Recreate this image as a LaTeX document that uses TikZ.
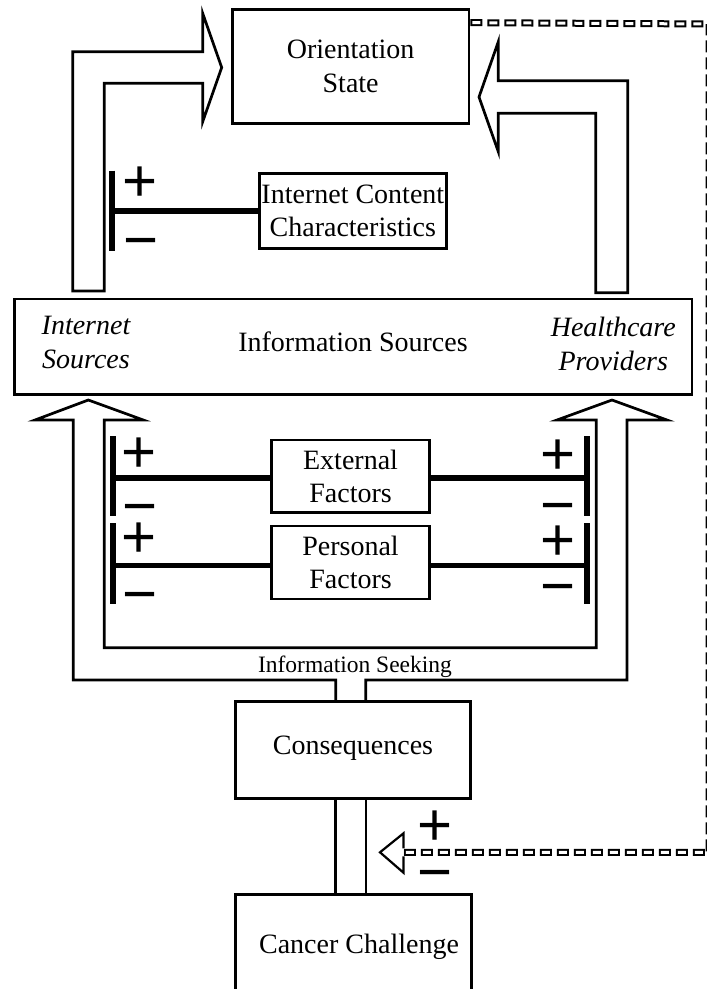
\documentclass[tikz,border=0pt]{standalone}
\usepackage{fontspec}
\setmainfont{Liberation Serif}
\newfontfamily\signfont{Liberation Sans}
\newcommand\mydiagfs{\fontsize{28}{33.5}\selectfont}
\begin{document}
\begin{tikzpicture}[x=1pt,y=-1pt,
  outline/.style={line width=2.7pt, line join=miter},
  hollow/.style={draw, line width=2.7pt, fill=white, line join=miter},
  box/.style={draw, line width=2.7pt, inner sep=0pt, align=center, font=\mydiagfs},
  txt/.style={inner sep=0pt, font=\mydiagfs},
  itxt/.style={inner sep=0pt, align=center, font=\mydiagfs\itshape},
  sgn/.style={inner sep=0pt, anchor=base, font=\signfont\fontsize{60}{60}\selectfont},
  bar/.style={line width=5.6pt},
  fbouter/.style={line width=7pt, dash pattern=on 12pt off 5pt},
  fbinner/.style={white, line width=3pt, dash pattern=on 8pt off 9pt, dash phase=15pt}
]
\useasboundingbox (0,0) rectangle (707,989);
\fill[white] (0,0) rectangle (707,989);

% boxes
\node[box, minimum width=236.7pt, minimum height=114pt] (orient) at (350.65,66.3) {Orientation\\State};
\node[box, minimum width=187.3pt, minimum height=75.4pt] (icc) at (352.85,211) {Internet Content\\Characteristics};
\node[box, minimum width=677.6pt, minimum height=95.5pt] (info) at (353.2,346.75) {};
\node[txt, anchor=base] (infolbl) at (353,351.7) {Information Sources};
\node[itxt] (inet) at (86,342.65) {Internet\\Sources};
\node[itxt] (hcp) at (613.3,343.9) {Healthcare\\Providers};
\node[box, minimum width=158.3pt, minimum height=72.7pt] (ext) at (350.55,476.35) {External\\Factors};
\node[box, minimum width=158.3pt, minimum height=73pt] (pers) at (350.55,562.5) {Personal\\Factors};
\node[box, minimum width=235pt, minimum height=97pt] (cons) at (353.2,750.2) {};
\node[txt, anchor=base] (conslbl) at (353,754.3) {Consequences};
\node[box, minimum width=236pt, minimum height=110pt] (cancer) at (353.2,949.3) {};
\node[txt, anchor=base] (cancerlbl) at (359,953.3) {Cancer Challenge};
\node[txt, anchor=base, font=\fontsize{23.5}{28}\selectfont] (seek) at (355,672.7) {Information Seeking};

% hollow L-arrows into Orientation State
\draw[hollow] (72.7,291) -- (72.7,51.7) -- (202.7,51.7) -- (202.7,13.3) -- (221.7,67.5)
  -- (202.7,121.7) -- (202.7,83.3) -- (104.3,83.3) -- (104.3,291) -- cycle;
\draw[hollow] (627.7,292.7) -- (627.7,80.7) -- (498.3,80.7) -- (498.3,41.7) -- (479,97)
  -- (498.3,151.7) -- (498.3,113.3) -- (595.7,113.3) -- (595.7,292.7) -- cycle;

% information seeking loop
\draw[outline] ([xshift=-17.5pt]cons.north) -- (335.7,680) -- (73.3,680) -- (73.3,420)
  -- (35,420) -- (88.3,400) -- (143.3,420) -- (104.3,420) -- (104.3,647.7)
  -- (596.3,647.7) -- (596.3,420) -- (557,420) -- (612,400) -- (667,420)
  -- (627,420) -- (627,680) -- (365.7,680) -- ([xshift=12.5pt]cons.north);
\draw[outline] ([xshift=-17.5pt]cons.south) -- ([xshift=-17.5pt]cancer.north);
\draw[outline] ([xshift=12.8pt]cons.south) -- ([xshift=12.8pt]cancer.north);

% moderators
\coordinate (iccL) at (112,211);
\draw[bar] (112,170.7) -- (112,250.7);
\draw[bar] (iccL) -- (icc.west);
\coordinate (extL) at (112.7,478);
\coordinate (extR) at (587,478);
\coordinate (persL) at (112.7,565.5);
\coordinate (persR) at (587,565.5);
\draw[bar] (112.7,436) -- (112.7,516);
\draw[bar] (587,436) -- (587,516);
\draw[bar] (112.7,523.3) -- (112.7,604);
\draw[bar] (587,523.3) -- (587,604);
\draw[bar] (extL) -- (ext.west |- extL);
\draw[bar] (ext.east |- extR) -- (extR);
\draw[bar] (persL) -- (pers.west |- persL);
\draw[bar] (pers.east |- persR) -- (persR);

% signs
\node[sgn] (s1) at (140,201) {+};
\node[sgn] (s2) at (141,260) {−};
\node[sgn] (s3) at (139.5,472.7) {+};
\node[sgn] (s4) at (140,526.3) {−};
\node[sgn] (s5) at (139,557.7) {+};
\node[sgn] (s6) at (140,614.3) {−};
\node[sgn] (s7) at (558,474.3) {+};
\node[sgn] (s8) at (558,525) {−};
\node[sgn] (s9) at (558,560) {+};
\node[sgn] (s10) at (558,606) {−};
\node[sgn] (s11) at (435,845) {+};
\node[sgn] (s12) at (435,892.7) {−};

% feedback dashed connector
\coordinate (fb0) at ([yshift=-14.7pt]orient.north east);
\coordinate (fb1) at (709,24);
\coordinate (fb2) at (709,852.3);
\coordinate (fbback) at (403.5,852.3);
\coordinate (fbtip) at (380,852.3);
\draw[fbouter] (fb0) -- (fb1) -- (fb2) -- (fbback);
\draw[fbinner] (fb0) -- (fb1) -- (fb2) -- (fbback);
\draw[line width=2.2pt, line join=miter, fill=white] (403.5,848.3) -- (403.5,833.3) -- (fbtip)
  -- (403.5,872.7) -- (403.5,856.3);
\end{tikzpicture}
\end{document}
